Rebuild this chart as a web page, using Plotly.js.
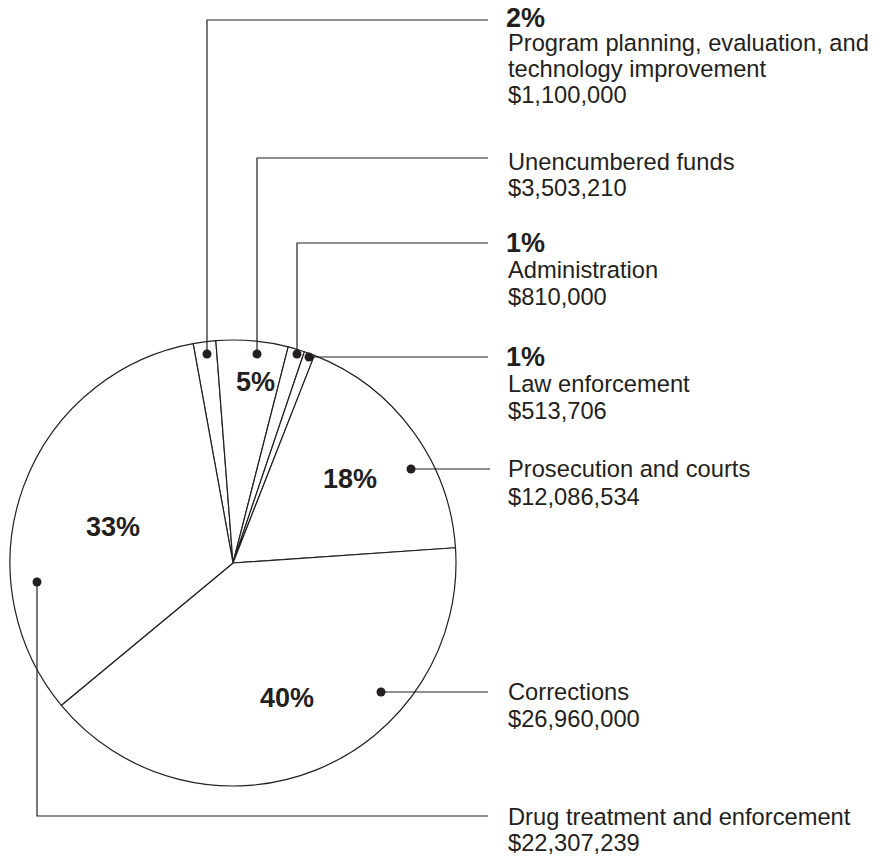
<!DOCTYPE html>
<html>
<head>
<meta charset="utf-8">
<script src="https://cdn.plot.ly/plotly-3.0.1.min.js"></script>
<style>html,body{margin:0;padding:0;background:#fff;}#chart{width:879px;height:856px;}</style>
</head>
<body>
<div id="chart"></div>
<script>
// ---- data ----
const categories = [
  "Program planning, evaluation, and technology improvement",
  "Unencumbered funds",
  "Administration",
  "Law enforcement",
  "Prosecution and courts",
  "Corrections",
  "Drug treatment and enforcement"
];
const labelLines = [
  ["Program planning, evaluation, and", "technology improvement"],
  ["Unencumbered funds"],
  ["Administration"],
  ["Law enforcement"],
  ["Prosecution and courts"],
  ["Corrections"],
  ["Drug treatment and enforcement"]
];
const amounts = [1100000, 3503210, 810000, 513706, 12086534, 26960000, 22307239];

// ---- layout constants (pixel positions) ----
const W = 879, H = 856;
const INK = '#231f20';
const FONT = 'Liberation Sans, Arial, Helvetica, sans-serif';
const pie = {cx: 233, cy: 563, r: 223, rotation: -10.3};
// per-slice callout: dot, elbow path, where the percent goes, text line centres
const callouts = [
  {dot: [207, 354], path: [[207, 354], [207, 20], [488, 20]], pctAt: 'label', pctY: 18, lineY: [43, 69], moneyY: 95},
  {dot: [257, 354], path: [[257, 354], [257, 158], [488, 158]], pctAt: [255, 382], lineY: [162], moneyY: 188},
  {dot: [297, 354], path: [[297, 354], [297, 243], [488, 243]], pctAt: 'label', pctY: 243, lineY: [270], moneyY: 297},
  {dot: [309, 357], path: [[309, 357], [488, 357]], pctAt: 'label', pctY: 357, lineY: [384], moneyY: 411},
  {dot: [411, 469], path: [[411, 469], [490, 469]], pctAt: [350, 479], lineY: [469], moneyY: 497},
  {dot: [381, 692], path: [[381, 692], [488, 692]], pctAt: [287, 698], lineY: [692], moneyY: 719},
  {dot: [37, 582], path: [[37, 582], [37, 816], [488, 816]], pctAt: [113, 527], lineY: [817], moneyY: 843}
];
const TEXT_X = 507;

const px = x => x / W;
const py = y => 1 - y / H;
const total = amounts.reduce((a, b) => a + b, 0);
const pctText = v => Math.round(v / total * 100) + '%';
const money = v => '$' + v.toLocaleString('en-US');

const annotations = [];
const shapes = [];
const regFont = {family: FONT, size: 23.7, color: INK};
const boldFont = {family: FONT, size: 27, color: INK, weight: 'bold'};

callouts.forEach((c, i) => {
  // leader line
  const d = c.path.map((p, k) => (k ? 'L' : 'M') + px(p[0]) + ',' + py(p[1])).join(' ');
  shapes.push({type: 'path', xref: 'paper', yref: 'paper', path: d, line: {color: INK, width: 1.2}});
  // dot
  const rr = 4.5;
  shapes.push({type: 'circle', xref: 'paper', yref: 'paper',
    x0: px(c.dot[0] - rr), x1: px(c.dot[0] + rr), y0: py(c.dot[1] + rr), y1: py(c.dot[1] - rr),
    fillcolor: INK, line: {color: INK, width: 0}});
  // percent
  const pt = '<b>' + pctText(amounts[i]) + '</b>';
  if (c.pctAt === 'label') {
    annotations.push({x: px(TEXT_X - 2), y: py(c.pctY), text: pt, xanchor: 'left', yanchor: 'middle', font: boldFont});
  } else {
    annotations.push({x: px(c.pctAt[0]), y: py(c.pctAt[1]), text: pt, xanchor: 'center', yanchor: 'middle', font: boldFont});
  }
  labelLines[i].forEach((t, k) => {
    annotations.push({x: px(TEXT_X), y: py(c.lineY[k]), text: t, xanchor: 'left', yanchor: 'middle', font: regFont});
  });
  annotations.push({x: px(TEXT_X), y: py(c.moneyY), text: money(amounts[i]), xanchor: 'left', yanchor: 'middle', font: regFont});
});
annotations.forEach(a => { a.xref = 'paper'; a.yref = 'paper'; a.showarrow = false; a.borderpad = 0; });

const trace = {
  type: 'pie',
  labels: categories,
  values: amounts,
  sort: false,
  direction: 'clockwise',
  rotation: pie.rotation,
  textinfo: 'none',
  hoverinfo: 'none',
  showlegend: false,
  marker: {colors: categories.map(() => '#ffffff'), line: {color: INK, width: 1.2}},
  domain: {x: [px(pie.cx - pie.r), px(pie.cx + pie.r)], y: [py(pie.cy + pie.r), py(pie.cy - pie.r)]}
};

Plotly.newPlot('chart', [trace], {
  width: W, height: H,
  margin: {l: 0, r: 0, t: 0, b: 0},
  paper_bgcolor: '#ffffff',
  plot_bgcolor: '#ffffff',
  showlegend: false,
  annotations: annotations,
  shapes: shapes
}, {staticPlot: true, displayModeBar: false});
</script>
</body>
</html>
